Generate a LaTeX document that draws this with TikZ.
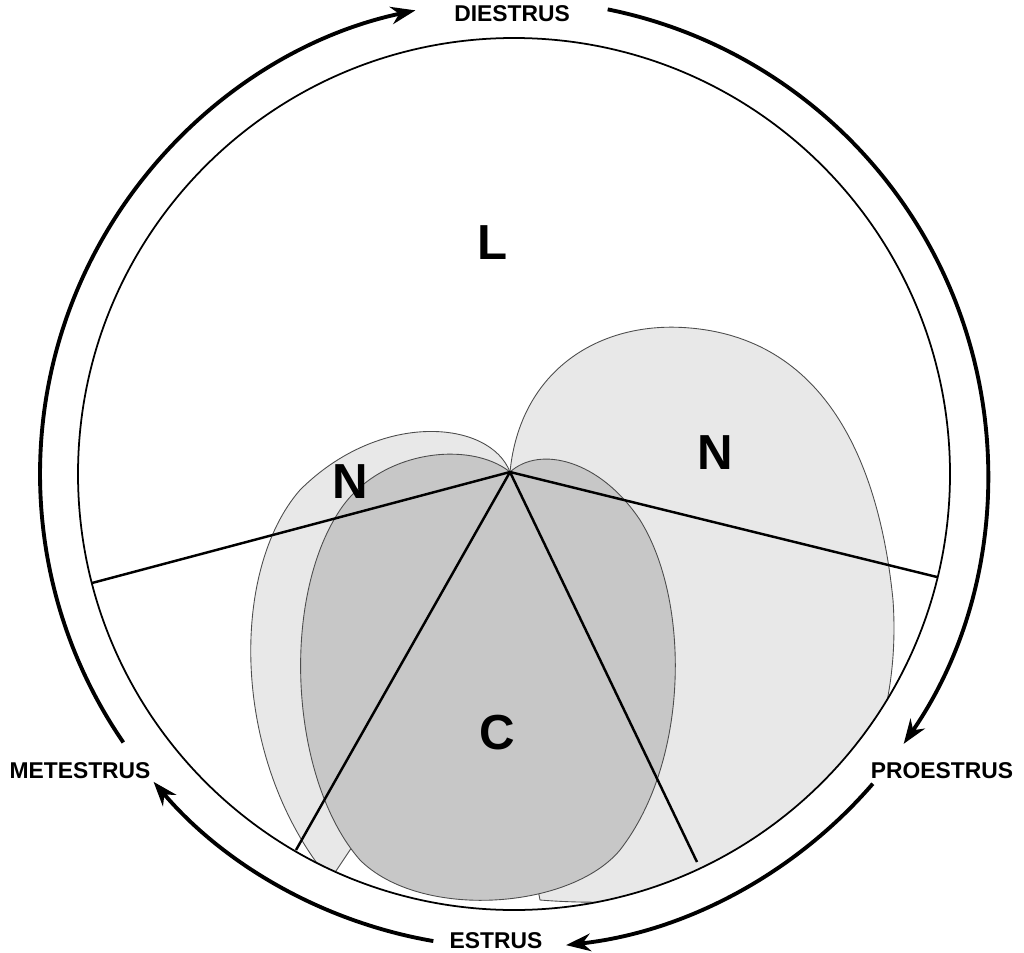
\documentclass[tikz,border=0pt]{standalone}
\usepackage{fontspec}
\setmainfont{Liberation Sans}
\usetikzlibrary{arrows.meta}
\begin{document}
\begin{tikzpicture}[x=0.02cm,y=-0.02cm,
  cyc/.style={line width=2.2pt,-{Stealth[length=14pt,width=10pt]}},
  lab/.style={font=\bfseries\fontsize{13}{15}\selectfont},
  big/.style={font=\bfseries\fontsize{28}{30}\selectfont},
  blob/.style={draw=black!70,line width=0.5pt}]
\useasboundingbox (0,0) rectangle (1024,953);
\coordinate (c) at (514,474);
\coordinate (h) at (510,472);
\begin{scope}
\clip (c) circle[radius=436];
\fill[blob,fill=black!9] (h) .. controls (490,420) and (380,410) .. (300,490) .. controls (230,570) and (230,760) .. (330,880) -- (450,700) -- cycle;
\fill[blob,fill=black!9] (h) .. controls (520,370) and (600,320) .. (690,328) .. controls (830,340) and (880,470) .. (893,600) .. controls (900,700) and (870,800) .. (800,860) .. controls (720,905) and (600,905) .. (540,900) -- (500,700) -- cycle;
\fill[blob,fill=black!22] (h) .. controls (540,445) and (600,460) .. (640,520) .. controls (690,600) and (690,760) .. (620,850) .. controls (570,910) and (420,920) .. (360,860) .. controls (290,780) and (280,600) .. (340,510) .. controls (380,450) and (470,440) .. (h);
\end{scope}
\draw[line width=1pt] (c) circle[radius=436];
\coordinate (s1) at (92,583);
\coordinate (s2) at (937,577);
\coordinate (s3) at (296,850);
\coordinate (s4) at (697,862);
\foreach \s in {s1,s2,s3,s4} \draw[line width=1.4pt] (h) -- (\s);
\node[big] (L) at (493,243) {L};
\node[big] (N1) at (350,482) {N};
\node[big] (N2) at (715,453) {N};
\node[big] (C) at (497,733) {C};
\node[lab] (d) at (512,14) {DIESTRUS};
\node[lab] (p) at (942,771) {PROESTRUS};
\node[lab] (e) at (496,941) {ESTRUS};
\node[lab] (m) at (80,771) {METESTRUS};
\draw[cyc] (c) ++(145.5:474) arc[start angle=145.5,end angle=258,radius=474];
\draw[cyc] (c) ++(-78.6:474) arc[start angle=-78.6,end angle=34.7,radius=474];
\draw[cyc] (c) ++(40.8:474) arc[start angle=40.8,end angle=83.7,radius=474];
\draw[cyc] (c) ++(99.8:474) arc[start angle=99.8,end angle=139.5,radius=474];
\end{tikzpicture}
\end{document}
